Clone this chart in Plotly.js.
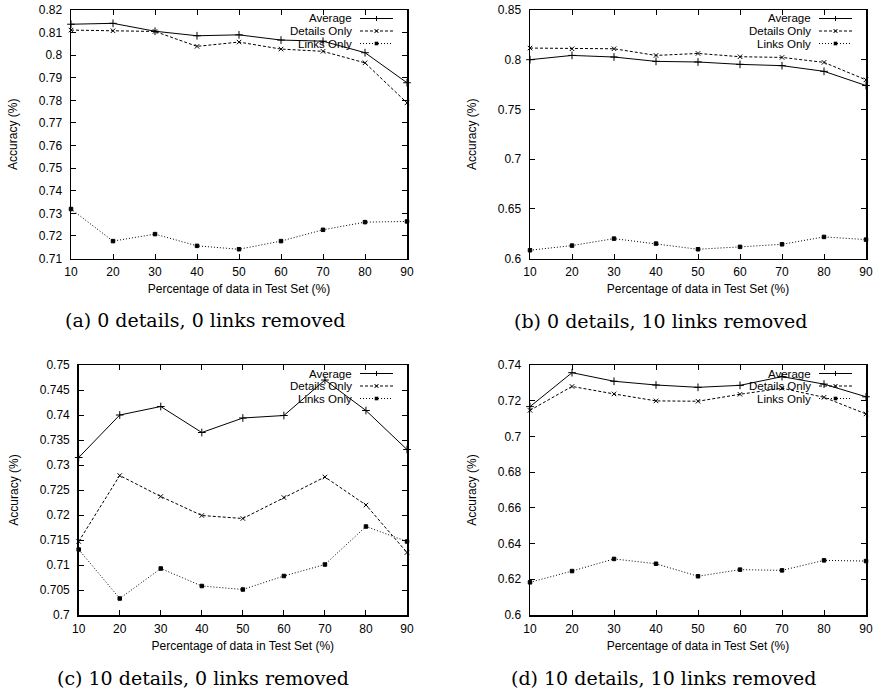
<!DOCTYPE html>
<html><head><meta charset="utf-8">
<script src="https://cdn.plot.ly/plotly-3.0.1.min.js"></script>
<style>html,body{margin:0;padding:0;background:#fff}#plot{width:876px;height:693px}</style>
</head><body><div id="plot"></div>
<script>
// ---- data ----
const xVals = [10, 20, 30, 40, 50, 60, 70, 80, 90];
const xTickText = ['10','20','30','40','50','60','70','80','90'];
const seriesNames = ['Average', 'Details Only', 'Links Only'];

const aAvg = [0.8137, 0.8141, 0.8106, 0.8086, 0.8090, 0.8067, 0.8062, 0.8011, 0.7878];
const aDet = [0.8111, 0.8108, 0.8105, 0.8039, 0.8058, 0.8027, 0.8017, 0.7966, 0.7789];
const aLnk = [0.7319, 0.7177, 0.7208, 0.7156, 0.7141, 0.7177, 0.7227, 0.7261, 0.7264];

const bAvg = [0.8000, 0.8043, 0.8027, 0.7983, 0.7977, 0.7953, 0.7940, 0.7883, 0.7740];
const bDet = [0.8117, 0.8110, 0.8110, 0.8043, 0.8063, 0.8030, 0.8023, 0.7973, 0.7797];
const bLnk = [0.6083, 0.6130, 0.6200, 0.6150, 0.6093, 0.6117, 0.6143, 0.6217, 0.6190];

const cAvg = [0.7315, 0.7400, 0.7417, 0.7365, 0.7394, 0.7399, 0.7470, 0.7409, 0.7331];
const cDet = [0.7147, 0.7279, 0.7237, 0.7199, 0.7193, 0.7235, 0.7276, 0.7220, 0.7125];
const cLnk = [0.7131, 0.7033, 0.7093, 0.7058, 0.7051, 0.7078, 0.7101, 0.7177, 0.7147];

const dAvg = [0.7167, 0.7357, 0.7309, 0.7288, 0.7275, 0.7286, 0.7335, 0.7293, 0.7222];
const dDet = [0.7146, 0.7280, 0.7238, 0.7199, 0.7197, 0.7236, 0.7270, 0.7219, 0.7126];
const dLnk = [0.6183, 0.6246, 0.6314, 0.6287, 0.6217, 0.6254, 0.6250, 0.6306, 0.6302];

const aYTicks = [0.71,0.72,0.73,0.74,0.75,0.76,0.77,0.78,0.79,0.80,0.81,0.82];
const aYText  = ['0.71','0.72','0.73','0.74','0.75','0.76','0.77','0.78','0.79','0.8','0.81','0.82'];
const bYTicks = [0.60,0.65,0.70,0.75,0.80,0.85];
const bYText  = ['0.6','0.65','0.7','0.75','0.8','0.85'];
const cYTicks = [0.700,0.705,0.710,0.715,0.720,0.725,0.730,0.735,0.740,0.745,0.750];
const cYText  = ['0.7','0.705','0.71','0.715','0.72','0.725','0.73','0.735','0.74','0.745','0.75'];
const dYTicks = [0.60,0.62,0.64,0.66,0.68,0.70,0.72,0.74];
const dYText  = ['0.6','0.62','0.64','0.66','0.68','0.7','0.72','0.74'];

const captions = ['(a) 0 details, 0 links removed', '(b) 0 details, 10 links removed',
                  '(c) 10 details, 0 links removed', '(d) 10 details, 10 links removed'];
const xTitle = 'Percentage of data in Test Set (%)';
const yTitle = 'Accuracy (%)';

// ---- layout geometry (pixels) ----
const W = 876, H = 693;
const boxes = [
  {l: 71,   r: 407, t: 10,  b: 258.5},
  {l: 530,  r: 866, t: 10,  b: 258.5},
  {l: 78.7, r: 407, t: 365, b: 615},
  {l: 530,  r: 866, t: 365, b: 615}
];
const captionPos = [[205, 320], [660, 321], [203, 678], [663, 678]];
const panelData = [[aAvg, aDet, aLnk], [bAvg, bDet, bLnk], [cAvg, cDet, cLnk], [dAvg, dDet, dLnk]];
const yRanges = [[0.71, 0.82], [0.60, 0.85], [0.70, 0.75], [0.60, 0.74]];
const yTickSets = [[aYTicks, aYText], [bYTicks, bYText], [cYTicks, cYText], [dYTicks, dYText]];

const FONT = 'Liberation Sans, Arial, Helvetica, sans-serif';
const styles = [
  {dash: 'solid', symbol: 'cross-thin', size: 5.5},
  {dash: '3px,2px', symbol: 'x-thin', size: 4.5},
  {dash: '1px,2px', symbol: 'square', size: 3.5}
];

const px = x => x / W;
const py = y => 1 - y / H;

const traces = [];
const layout = {
  width: W, height: H,
  margin: {l: 0, r: 0, t: 0, b: 0},
  paper_bgcolor: '#fff', plot_bgcolor: '#fff',
  showlegend: false,
  font: {family: FONT, size: 12, color: '#000'},
  shapes: [], annotations: []
};

boxes.forEach((bx, i) => {
  const n = i === 0 ? '' : String(i + 1);
  const xa = 'x' + n, ya = 'y' + n;
  panelData[i].forEach((ys, k) => {
    traces.push({
      type: 'scatter', mode: 'lines+markers', x: xVals, y: ys,
      name: seriesNames[k], xaxis: xa, yaxis: ya, cliponaxis: false,
      line: {color: '#000', width: 1, dash: styles[k].dash},
      marker: {symbol: styles[k].symbol, size: styles[k].size, color: '#000',
               line: {color: '#000', width: 1}}
    });
  });
  const common = {
    ticks: 'inside', ticklen: 5, tickwidth: 1, tickcolor: '#000',
    showline: true, linecolor: '#000', linewidth: 1.5, mirror: 'ticks',
    showgrid: false, zeroline: false,
    tickfont: {family: FONT, size: 12, color: '#000'}
  };
  layout['xaxis' + n] = Object.assign({}, common, {
    domain: [px(bx.l), px(bx.r)], anchor: ya, range: [10, 90],
    tickvals: xVals, ticktext: xTickText, ticklabelstandoff: 2,
    title: {text: xTitle, font: {family: FONT, size: 12, color: '#000'}, standoff: 6}
  });
  layout['yaxis' + n] = Object.assign({}, common, {
    domain: [py(bx.b), py(bx.t)], anchor: xa, range: yRanges[i],
    tickvals: yTickSets[i][0], ticktext: yTickSets[i][1], ticklabelstandoff: 5,
    title: {text: yTitle, font: {family: FONT, size: 12, color: '#000'}, standoff: 18}
  });

  // gnuplot-style legend (text right, sample at right)
  const textRight = bx.r - 54, l0 = bx.r - 47, l1 = bx.r - 14, lm = (l0 + l1) / 2;
  seriesNames.forEach((nm, k) => {
    const yy = bx.t + 8.5 + k * 12.5;
    layout.annotations.push({
      xref: 'paper', yref: 'paper', x: px(textRight), y: py(yy),
      xanchor: 'right', yanchor: 'middle', text: nm, showarrow: false,
      borderpad: 0,
      font: {family: FONT, size: 11.5, color: '#000'}
    });
    layout.shapes.push({type: 'line', xref: 'paper', yref: 'paper',
      x0: px(l0), x1: px(l1), y0: py(yy), y1: py(yy),
      line: {color: '#000', width: 1, dash: styles[k].dash}});
    if (k === 0) {
      layout.shapes.push({type: 'line', xref: 'paper', yref: 'paper', x0: px(lm - 2.5), x1: px(lm + 2.5), y0: py(yy), y1: py(yy), line: {color: '#000', width: 1}});
      layout.shapes.push({type: 'line', xref: 'paper', yref: 'paper', x0: px(lm), x1: px(lm), y0: py(yy - 2.5), y1: py(yy + 2.5), line: {color: '#000', width: 1}});
    } else if (k === 1) {
      layout.shapes.push({type: 'line', xref: 'paper', yref: 'paper', x0: px(lm - 2), x1: px(lm + 2), y0: py(yy - 2), y1: py(yy + 2), line: {color: '#000', width: 1}});
      layout.shapes.push({type: 'line', xref: 'paper', yref: 'paper', x0: px(lm - 2), x1: px(lm + 2), y0: py(yy + 2), y1: py(yy - 2), line: {color: '#000', width: 1}});
    } else {
      layout.shapes.push({type: 'rect', xref: 'paper', yref: 'paper', x0: px(lm - 1.8), x1: px(lm + 1.8), y0: py(yy + 1.8), y1: py(yy - 1.8), line: {width: 0}, fillcolor: '#000'});
    }
  });

  layout.annotations.push({
    xref: 'paper', yref: 'paper', x: px(captionPos[i][0]), y: py(captionPos[i][1]),
    xanchor: 'center', yanchor: 'middle', text: captions[i], showarrow: false,
    font: {family: 'DejaVu Serif, Liberation Serif, serif', size: 19, color: '#000'}
  });
});

Plotly.newPlot('plot', traces, layout, {displayModeBar: false, staticPlot: true});
</script>
</body></html>
